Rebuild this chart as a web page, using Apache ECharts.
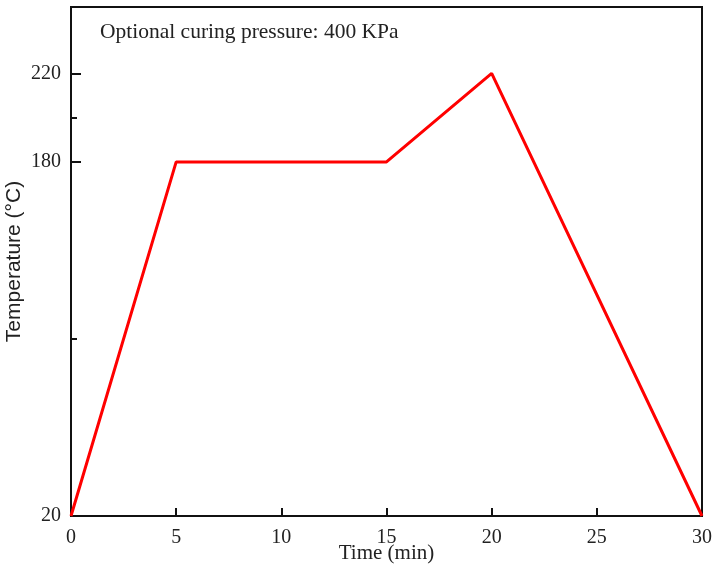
<!DOCTYPE html>
<html lang="en">
<head>
    <meta charset="UTF-8">
    <title>Curing profile</title>
    <script src="https://cdnjs.cloudflare.com/ajax/libs/echarts/6.0.0/echarts.min.js"></script>
    <style>
        html, body { margin: 0; padding: 0; background: #fff; }
        #box { width: 715px; height: 568px; }
    </style>
</head>
<body>
<div id="box"></div>
<script>
    // profile points: time (min) and temperature (°C)
    var times = [0, 5, 15, 20, 30];
    var temps = [20, 180, 180, 220, 20];
    var xTicks = [0, 5, 10, 15, 20, 25, 30];
    var yLabels = [20, 180, 220];
    var yMinorTicks = [100, 200];
    var note = 'Optional curing pressure: 400 KPa';

    var serif = '"Liberation Serif", "DejaVu Serif", serif';
    var chartDom = document.getElementById('box');
    var myChart = echarts.init(chartDom);

    var points = times.map(function (t, i) { return [t, temps[i]]; });

    var option = {
        animation: false,
        title: {
            text: note,
            left: 95,
            top: 16,
            textStyle: { fontFamily: serif, fontSize: 21.5, fontWeight: 'normal', color: '#222' }
        },
        grid: {
            left: 71, right: 13, top: 7, bottom: 52,
            outerBoundsMode: 'none',
            containLabel: false,
            show: true, borderColor: '#111', borderWidth: 2, backgroundColor: 'transparent'
        },
        xAxis: {
            type: 'value',
            min: 0, max: 30, interval: 5,
            name: 'Time (min)',
            nameLocation: 'middle',
            nameGap: 27,
            nameMoveOverlap: false,
            nameTextStyle: { fontFamily: serif, fontSize: 21, color: '#222', verticalAlign: 'top' },
            axisLine: { show: true, lineStyle: { color: '#111', width: 2 } },
            axisTick: { show: true, inside: true, length: 8, lineStyle: { color: '#111', width: 2 } },
            axisLabel: { fontFamily: serif, fontSize: 20, color: '#222', margin: 12,
                customValues: xTicks },
            splitLine: { show: false }
        },
        yAxis: [
            {
                type: 'value',
                min: 20, max: 250,
                name: 'Temperature (\u00b0C)',
                nameLocation: 'middle',
                nameGap: 46,
                nameMoveOverlap: false,
                nameTextStyle: { fontFamily: '"Liberation Sans", Arial, sans-serif', fontSize: 21, color: '#222' },
                axisLine: { show: true, lineStyle: { color: '#111', width: 2 } },
                axisTick: { show: true, inside: true, length: 10, lineStyle: { color: '#111', width: 2 },
                    customValues: yLabels },
                axisLabel: { fontFamily: serif, fontSize: 20, color: '#222', margin: 10,
                    customValues: yLabels },
                splitLine: { show: false }
            },
            {
                type: 'value',
                position: 'left',
                min: 20, max: 250,
                axisLine: { show: false },
                axisTick: { show: true, inside: true, length: 6, lineStyle: { color: '#111', width: 2 },
                    customValues: yMinorTicks },
                axisLabel: { show: false },
                splitLine: { show: false }
            }
        ],
        series: [
            {
                type: 'line',
                data: points,
                symbol: 'none',
                lineStyle: { color: '#ff0000', width: 3 },
                itemStyle: { color: '#ff0000' }
            }
        ]
    };

    option && myChart.setOption(option);
</script>
</body>
</html>
